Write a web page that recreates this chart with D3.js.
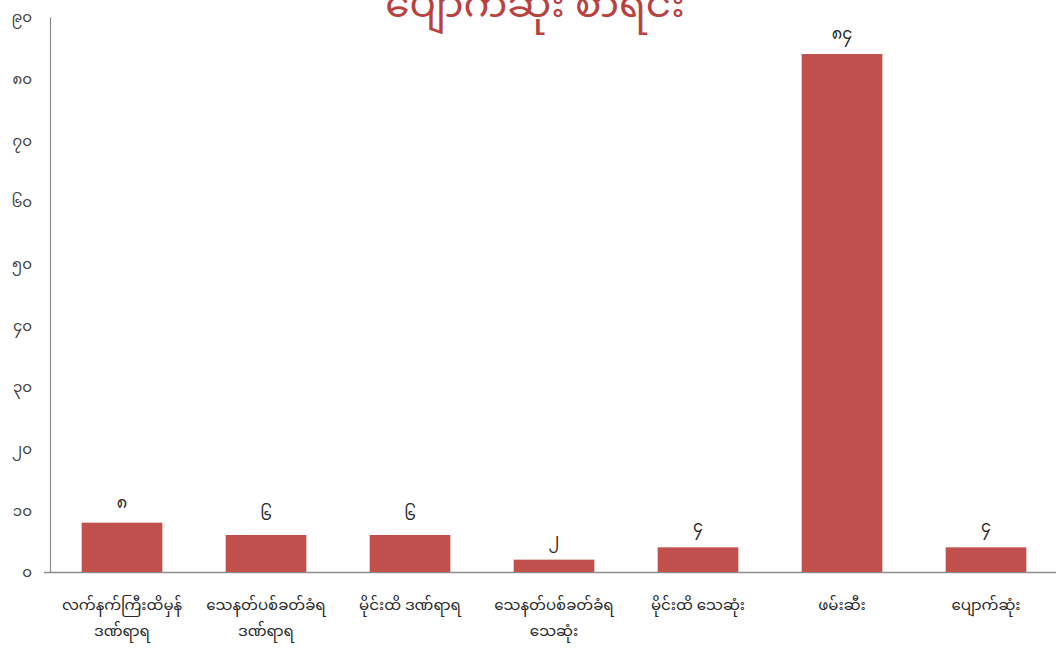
<!DOCTYPE html>
<html>
<head>
<meta charset="utf-8">
<script src="https://cdn.jsdelivr.net/npm/d3@7"></script>
<style>
  body { margin: 0; background: #fff; }
</style>
</head>
<body>
<div id="chart"></div>
<script>
// chart data
var categories = [
    ["လက်နက်ကြီးထိမှန်", "ဒဏ်ရာရ"],
    ["သေနတ်ပစ်ခတ်ခံရ", "ဒဏ်ရာရ"],
    ["မိုင်းထိ ဒဏ်ရာရ"],
    ["သေနတ်ပစ်ခတ်ခံရ", "သေဆုံး"],
    ["မိုင်းထိ သေဆုံး"],
    ["ဖမ်းဆီး"],
    ["ပျောက်ဆုံး"]
];
var values = [8, 6, 6, 2, 4, 84, 4];
var yTicks = [0, 10, 20, 30, 40, 50, 60, 70, 80, 90];
var title = "ပျောက်ဆုံး စာရင်း";

var W = 1056, H = 650;
var font = "'Noto Sans Myanmar', 'Padauk', 'Myanmar Text', sans-serif";
var barColor = "#c0504d";

// convert western digits to Myanmar digits
function myNum(n) {
    return String(n).replace(/[0-9]/g, function (d) {
        return String.fromCharCode(0x1040 + (+d));
    });
}

var svg = d3.select("#chart").append("svg")
    .attr("width", W)
    .attr("height", H);

var x = d3.scaleBand()
    .domain(d3.range(categories.length))
    .range([50, 1058])
    .paddingInner(0.44)
    .paddingOuter(0.22);

var y = d3.scaleLinear()
    .domain([0, 90])
    .range([572, 17]);

// title (cut at the top like the original)
svg.append("text")
    .attr("x", 535)
    .attr("y", 17)
    .attr("text-anchor", "middle")
    .attr("font-family", font)
    .attr("font-size", 39)
    .attr("fill", "#b9423f")
    .text(title);

// y axis
var yAxis = svg.append("g")
    .attr("transform", "translate(50,0)")
    .call(d3.axisLeft(y).tickValues(yTicks).tickSize(0).tickPadding(18).tickFormat(myNum));
yAxis.select(".domain").attr("stroke", "#8c8c8c").attr("stroke-width", 1.2);
yAxis.selectAll("text")
    .attr("font-family", font)
    .attr("font-size", 15)
    .attr("fill", "#404040");

// x axis line
svg.append("line")
    .attr("x1", 44).attr("x2", W)
    .attr("y1", y(0) + 0.5).attr("y2", y(0) + 0.5)
    .attr("stroke", "#8c8c8c")
    .attr("stroke-width", 1.5);

// bars
svg.append("g").selectAll("rect")
    .data(values)
    .join("rect")
    .attr("x", function (d, i) { return x(i); })
    .attr("y", function (d) { return y(d); })
    .attr("width", x.bandwidth())
    .attr("height", function (d) { return y(0) - y(d); })
    .attr("fill", barColor);

// value labels
svg.append("g").selectAll("text")
    .data(values)
    .join("text")
    .attr("x", function (d, i) { return x(i) + x.bandwidth() / 2; })
    .attr("y", function (d) { return y(d) - 15; })
    .attr("text-anchor", "middle")
    .attr("font-family", font)
    .attr("font-size", 16)
    .attr("fill", "#262626")
    .text(function (d) { return myNum(d); });

// category labels, some on two lines
var lab = svg.append("g").selectAll("text")
    .data(categories)
    .join("text")
    .attr("x", function (d, i) { return x(i) + x.bandwidth() / 2; })
    .attr("y", 610)
    .attr("text-anchor", "middle")
    .attr("font-family", font)
    .attr("font-size", 15)
    .attr("fill", "#262626");

lab.selectAll("tspan")
    .data(function (d) { return d; })
    .join("tspan")
    .attr("x", function () { return d3.select(this.parentNode).attr("x"); })
    .attr("dy", function (d, i) { return i === 0 ? 0 : 26; })
    .text(function (d) { return d; });
</script>
</body>
</html>
